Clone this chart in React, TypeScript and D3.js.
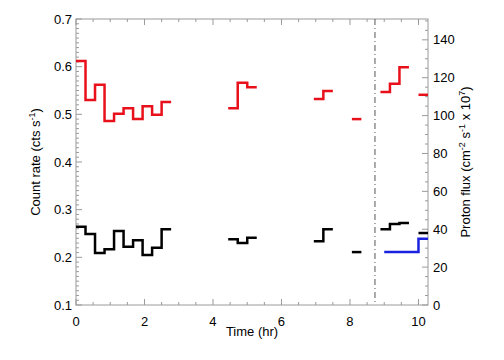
import { useEffect, useRef } from "react";
import * as d3 from "d3";

// 1000 s bins, in hours
const BIN_HR = 1000 / 3600;
const BIN_INDEX = [0, 1, 2, 3, 4, 5, 6, 7, 8, 9, 16, 17, 18, 25, 26, 29, 32, 33, 34, 36];
const RED_RATE = [
  0.612, 0.53, 0.562, 0.486, 0.501, 0.513, 0.49, 0.517, 0.499, 0.526,
  0.513, 0.566, 0.557, 0.532, 0.549, 0.49, 0.547, 0.564, 0.599, 0.541,
];
const BLACK_RATE = [
  0.264, 0.249, 0.209, 0.217, 0.255, 0.222, 0.236, 0.205, 0.22, 0.259,
  0.238, 0.23, 0.241, 0.234, 0.259, 0.211, 0.259, 0.27, 0.272, 0.251,
];
const PROTON_START = [9.0, 10.0];
const PROTON_FLUX = [28, 35];
const PROTON_END = 10.278;
const EVENT_TIME = 8.73;

const X_TICKS = [0, 2, 4, 6, 8, 10];
const Y_TICKS = [0.1, 0.2, 0.3, 0.4, 0.5, 0.6, 0.7];
const YR_TICKS = [0, 20, 40, 60, 80, 100, 120, 140];

const W = 504;
const H = 360;
const AXIS_COLOR = "#9a9a9a";
const FONT = "'Liberation Sans', Arial, Helvetica, sans-serif";

// split binned values into contiguous runs -> step line points
function stepRuns(values: number[]) {
  const runs: [number, number][][] = [];
  let cur: [number, number][] = [];
  BIN_INDEX.forEach((b, i) => {
    if (i > 0 && b !== BIN_INDEX[i - 1] + 1) {
      const last = cur[cur.length - 1];
      cur.push([(BIN_INDEX[i - 1] + 1) * BIN_HR, last[1]]);
      runs.push(cur);
      cur = [];
    }
    cur.push([b * BIN_HR, values[i]]);
  });
  const last = cur[cur.length - 1];
  cur.push([(BIN_INDEX[BIN_INDEX.length - 1] + 1) * BIN_HR, last[1]]);
  runs.push(cur);
  return runs;
}

function renderChart(el: SVGSVGElement | null) {
  if (!el) return;
  const svg = d3.select(el);
  svg.selectAll("*").remove();

  const left = 76, right = 428, top = 19, bottom = 305;
  const x = d3.scaleLinear().domain([0, 10.278]).range([left, right]);
  const y = d3.scaleLinear().domain([0.1, 0.7]).range([bottom, top]);
  const yR = d3.scaleLinear().domain([0, 151]).range([bottom, top]);

  svg.append("rect").attr("width", W).attr("height", H).attr("fill", "#fff");

  const defs = svg.append("defs");
  defs.append("clipPath").attr("id", "plot-clip")
    .append("rect").attr("x", left).attr("y", top)
    .attr("width", right - left).attr("height", bottom - top);

  // frame
  svg.append("rect")
    .attr("x", left).attr("y", top)
    .attr("width", right - left).attr("height", bottom - top)
    .attr("fill", "none").attr("stroke", AXIS_COLOR).attr("stroke-width", 1);

  const tickGroup = svg.append("g").attr("stroke", AXIS_COLOR).attr("stroke-width", 1);
  const tick = (x1: number, y1: number, x2: number, y2: number) =>
    tickGroup.append("line").attr("x1", x1).attr("y1", y1).attr("x2", x2).attr("y2", y2);

  // x ticks (bottom + top), minor every 0.5 hr
  d3.range(0, 10.3, 0.5).forEach((t) => {
    const major = Math.abs(t - Math.round(t / 2) * 2) < 1e-6;
    const len = major ? 6 : 3;
    tick(x(t), bottom, x(t), bottom - len);
    tick(x(t), top, x(t), top + len);
  });
  // left ticks, minor every 0.01
  d3.range(10, 71).forEach((k) => {
    const v = k / 100;
    const len = k % 10 === 0 ? 6 : 3;
    tick(left, y(v), left + len, y(v));
  });
  // right ticks, minor every 5
  d3.range(0, 151, 5).forEach((v) => {
    const len = v % 20 === 0 ? 6 : 3;
    tick(right, yR(v), right - len, yR(v));
  });

  const text = svg.append("g").attr("font-family", FONT).attr("font-size", 13).attr("fill", "#000");

  X_TICKS.forEach((t) => {
    text.append("text").attr("x", x(t)).attr("y", bottom + 21)
      .attr("text-anchor", "middle").text(String(t));
  });
  Y_TICKS.forEach((v) => {
    text.append("text").attr("x", left - 4).attr("y", y(v)).attr("dy", "0.35em")
      .attr("text-anchor", "end").text(v.toFixed(1));
  });
  YR_TICKS.forEach((v) => {
    text.append("text").attr("x", right + 5).attr("y", yR(v)).attr("dy", "0.35em")
      .attr("text-anchor", "start").text(String(v));
  });

  text.append("text").attr("x", (left + right) / 2).attr("y", 336)
    .attr("text-anchor", "middle").text("Time (hr)");

  const yTitle = text.append("text")
    .attr("transform", `translate(40,${(top + bottom) / 2}) rotate(-90)`)
    .attr("text-anchor", "middle");
  yTitle.append("tspan").text("Count rate (cts  s");
  yTitle.append("tspan").attr("font-size", 9).attr("dy", -5).text("-1");
  yTitle.append("tspan").attr("dy", 5).text(")");

  const rTitle = text.append("text")
    .attr("transform", `translate(470,${(top + bottom) / 2}) rotate(-90)`)
    .attr("text-anchor", "middle");
  rTitle.append("tspan").text("Proton flux (cm");
  rTitle.append("tspan").attr("font-size", 9).attr("dy", -5).text("-2");
  rTitle.append("tspan").attr("dy", 5).text(" s");
  rTitle.append("tspan").attr("font-size", 9).attr("dy", -5).text("-1");
  rTitle.append("tspan").attr("dy", 5).text(" x 10");
  rTitle.append("tspan").attr("font-size", 9).attr("dy", -5).text("7");
  rTitle.append("tspan").attr("dy", 5).text(")");

  // event marker
  svg.append("line")
    .attr("x1", x(EVENT_TIME)).attr("x2", x(EVENT_TIME))
    .attr("y1", top).attr("y2", bottom)
    .attr("stroke", "#555").attr("stroke-width", 1)
    .attr("stroke-dasharray", "6,3,1,3");

  const plot = svg.append("g").attr("clip-path", "url(#plot-clip)");
  const line = d3.line<[number, number]>()
    .x((d) => x(d[0])).y((d) => y(d[1]))
    .curve(d3.curveStepAfter);

  stepRuns(RED_RATE).forEach((run) => {
    plot.append("path").attr("d", line(run)!).attr("fill", "none")
      .attr("stroke", "#e8101a").attr("stroke-width", 2.5);
  });
  stepRuns(BLACK_RATE).forEach((run) => {
    plot.append("path").attr("d", line(run)!).attr("fill", "none")
      .attr("stroke", "#000").attr("stroke-width", 2.5);
  });

  const protonPts: [number, number][] = PROTON_START.map((t, i) => [t, PROTON_FLUX[i]]);
  protonPts.push([PROTON_END, PROTON_FLUX[PROTON_FLUX.length - 1]]);
  const protonLine = d3.line<[number, number]>()
    .x((d) => x(d[0])).y((d) => yR(d[1]))
    .curve(d3.curveStepAfter);
  plot.append("path").attr("d", protonLine(protonPts)!).attr("fill", "none")
    .attr("stroke", "#1a22e0").attr("stroke-width", 2.5);
}

export default function App() {
  const svgRef = useRef<SVGSVGElement>(null);

  useEffect(() => {
    document.body.style.margin = "0";
    renderChart(svgRef.current);
  }, []);

  return (
    <svg ref={svgRef} width={W} height={H} viewBox={`0 0 ${W} ${H}`} style={{ display: "block" }} />
  );
}
